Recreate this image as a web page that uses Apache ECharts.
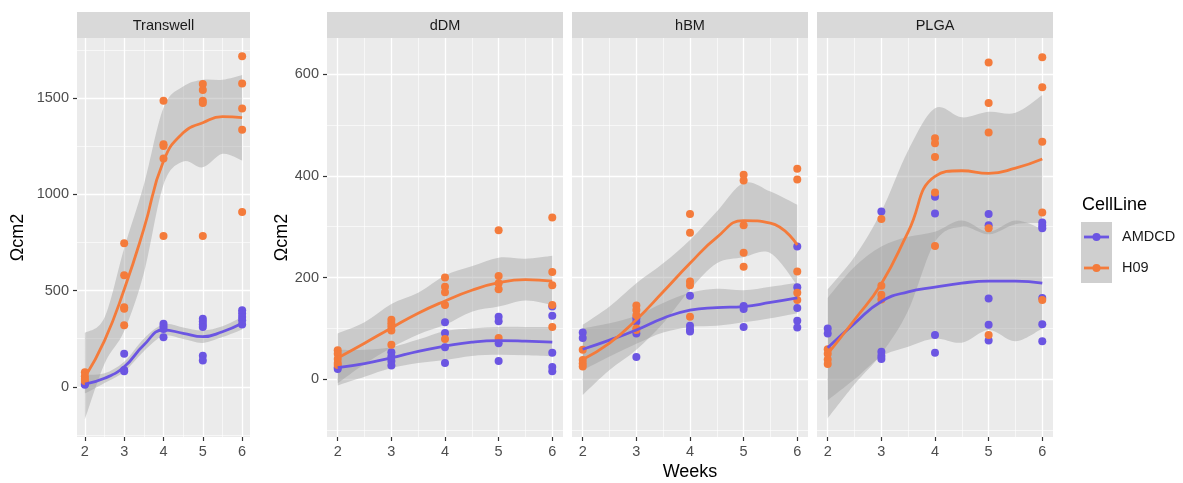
<!DOCTYPE html>
<html><head><meta charset="utf-8">
<script src="https://cdn.jsdelivr.net/npm/echarts@6/dist/echarts.min.js"></script>
<style>html,body{margin:0;padding:0;background:#fff;}#chart{width:1183px;height:483px;}</style>
</head><body><div id="chart"></div>
<script>
// ---------- data ----------
const panels = ['Transwell', 'dDM', 'hBM', 'PLGA'];
const cellLines = ['AMDCD', 'H09'];
const weeks = [2, 3, 4, 5, 6];
const weekMinor = [2.5, 3.5, 4.5, 5.5];
const fitWeeks = [2, 2.5, 3, 3.5, 4, 4.5, 5, 5.5, 6];
const transwellTicks = [0, 500, 1000, 1500];
const transwellMinor = [-250, 250, 750, 1250, 1750];
const sharedTicks = [0, 200, 400, 600];
const sharedMinor = [-100, 100, 300, 500];

// measured points, one list per week
const transwellAMDCD = [[20, 15, 10], [171, 87, 80], [328, 314, 300, 257], [354, 339, 323, 311, 161, 137], [397, 380, 363, 345, 323]];
const transwellH09 = [[75, 55, 40, 30], [745, 580, 413, 405, 320], [1486, 1260, 1251, 1186, 783], [1573, 1542, 1486, 1474, 783], [1717, 1576, 1446, 1335, 908]];
const dDMAMDCD = [[23, 20], [53, 45, 36, 27], [112, 91, 63, 32], [123, 114, 71, 36], [143, 125, 52, 24, 16]];
const dDMH09 = [[57, 50, 40, 32, 28], [117, 110, 104, 96, 68], [200, 182, 171, 146, 79], [293, 203, 189, 177, 81], [318, 211, 185, 146, 103]];
const hBMAMDCD = [[92, 81], [120, 113, 90, 44], [164, 105, 98, 94], [144, 138, 103], [261, 181, 140, 115, 102]];
const hBMH09 = [[58, 38, 31, 25], [145, 136, 126, 100, 97], [325, 288, 192, 185, 123], [402, 391, 303, 249, 221], [414, 393, 212, 170, 156]];
const plgaAMDCD = [[100, 90], [330, 54, 46, 40], [359, 326, 87, 52], [325, 303, 159, 107, 76], [308, 302, 297, 160, 108, 75]];
const plgaH09 = [[59, 50, 39, 30], [315, 184, 166, 157], [474, 464, 437, 367, 262], [623, 543, 485, 297, 87], [633, 574, 467, 328, 156]];

// loess fits and confidence bands read at fitWeeks
const transwellAMDCDFit = [14, 44, 104, 217, 295, 278, 260, 286, 330];
const transwellAMDCDLo = [-35, 20, 78, 185, 265, 248, 228, 258, 298];
const transwellAMDCDHi = [62, 70, 130, 250, 325, 308, 292, 314, 362];
const transwellH09Fit = [50, 240, 505, 820, 1173, 1320, 1372, 1403, 1398];
const transwellH09Lo = [-170, 120, 290, 590, 1050, 1170, 1140, 1210, 1175];
const transwellH09Hi = [280, 360, 720, 1050, 1450, 1560, 1595, 1595, 1620];
const dDMAMDCDFit = [23, 31, 42, 55, 65, 73, 76, 75, 73];
const dDMAMDCDLo = [-12, 5, 22, 32, 38, 46, 48, 47, 45];
const dDMAMDCDHi = [58, 58, 63, 78, 95, 100, 103, 103, 103];
const dDMH09Fit = [42, 71, 101, 130, 154, 175, 190, 196, 193];
const dDMH09Lo = [-8, 30, 62, 88, 107, 133, 143, 155, 146];
const dDMH09Hi = [90, 112, 148, 170, 204, 222, 239, 237, 243];
const hBMAMDCDFit = [59, 77, 97, 120, 136, 141, 143, 151, 160];
const hBMAMDCDLo = [18, 45, 70, 92, 103, 105, 112, 120, 130];
const hBMAMDCDHi = [100, 110, 125, 150, 170, 178, 175, 182, 190];
const hBMH09Fit = [39, 71, 117, 172, 228, 279, 312, 307, 264];
const hBMH09Lo = [-31, 18, 58, 110, 176, 228, 240, 248, 185];
const hBMH09Hi = [107, 143, 189, 228, 274, 330, 386, 369, 343];
const plgaAMDCDFit = [62, 110, 153, 172, 181, 189, 193, 193, 189];
const plgaAMDCDLo = [-41, 0, 45, 64, 80, 72, 97, 75, 100];
const plgaAMDCDHi = [160, 221, 261, 280, 290, 312, 290, 312, 295];
const plgaH09Fit = [50, 117, 188, 290, 399, 410, 405, 415, 433];
const plgaH09Lo = [-77, -10, 50, 135, 270, 300, 285, 305, 307];
const plgaH09Hi = [177, 241, 330, 450, 533, 515, 526, 524, 559];

// ---------- assembly ----------
const panelData = [
  { AMDCD: [transwellAMDCD, transwellAMDCDFit, transwellAMDCDLo, transwellAMDCDHi], H09: [transwellH09, transwellH09Fit, transwellH09Lo, transwellH09Hi] },
  { AMDCD: [dDMAMDCD, dDMAMDCDFit, dDMAMDCDLo, dDMAMDCDHi], H09: [dDMH09, dDMH09Fit, dDMH09Lo, dDMH09Hi] },
  { AMDCD: [hBMAMDCD, hBMAMDCDFit, hBMAMDCDLo, hBMAMDCDHi], H09: [hBMH09, hBMH09Fit, hBMH09Lo, hBMH09Hi] },
  { AMDCD: [plgaAMDCD, plgaAMDCDFit, plgaAMDCDLo, plgaAMDCDHi], H09: [plgaH09, plgaH09Fit, plgaH09Lo, plgaH09Hi] }
];

const FONT = '"Liberation Sans", Arial, Helvetica, sans-serif';
const COLORS = { AMDCD: '#6B55E2', H09: '#F47B3B' };
const BAND = 'rgba(153,153,153,0.4)';
const gridBoxes = [[77, 173], [327, 236], [572, 236], [817, 236]];
const GTOP = 38, GH = 399;
const yRanges = [[-261, 1812], [-113.5, 671], [-113.5, 671], [-113.5, 671]];

// Catmull-Rom spline through pixel points -> SVG path commands (no leading M)
function splinePath(pts) {
  let d = '';
  for (let i = 0; i < pts.length - 1; i++) {
    const p0 = pts[Math.max(i - 1, 0)], p1 = pts[i], p2 = pts[i + 1], p3 = pts[Math.min(i + 2, pts.length - 1)];
    const c1 = [p1[0] + (p2[0] - p0[0]) / 6, p1[1] + (p2[1] - p0[1]) / 6];
    const c2 = [p2[0] - (p3[0] - p1[0]) / 6, p2[1] - (p3[1] - p1[1]) / 6];
    d += ' C' + c1[0] + ',' + c1[1] + ' ' + c2[0] + ',' + c2[1] + ' ' + p2[0] + ',' + p2[1];
  }
  return d;
}

const grids = [], xAxes = [], yAxes = [], series = [], graphics = [];

panels.forEach((name, g) => {
  const [left, width] = gridBoxes[g];
  grids.push({ left: left, top: GTOP, width: width, height: GH, show: true, backgroundColor: '#EBEBEB', borderWidth: 0 });
  const majY = g === 0 ? transwellTicks : sharedTicks;
  const minY = g === 0 ? transwellMinor : sharedMinor;
  const showY = g <= 1;
  xAxes.push({
    gridIndex: g, type: 'value', min: 1.8, max: 6.2, position: 'bottom',
    axisLine: { show: false, onZero: false },
    axisTick: { show: true, customValues: weeks, length: 4, lineStyle: { color: '#333', width: 1.2 } },
    axisLabel: { customValues: weeks, color: '#4D4D4D', fontSize: 14.5, margin: 7, fontFamily: FONT, formatter: v => String(v) },
    splitLine: { show: true, lineStyle: { color: '#FFFFFF', width: 1.3 } }
  });
  xAxes.push({
    gridIndex: g, type: 'value', min: 1.8, max: 6.2, position: 'top',
    axisLine: { show: false, onZero: false },
    axisTick: { show: false, customValues: weekMinor },
    axisLabel: { show: false, customValues: weekMinor },
    splitLine: { show: true, lineStyle: { color: '#FFFFFF', width: 0.6 } }
  });
  yAxes.push({
    gridIndex: g, type: 'value', min: yRanges[g][0], max: yRanges[g][1], position: 'left',
    axisLine: { show: false, onZero: false },
    axisTick: { show: showY, customValues: majY, length: 4, lineStyle: { color: '#333', width: 1.2 } },
    axisLabel: { show: showY, customValues: majY, color: '#4D4D4D', fontSize: 14.5, margin: 8, fontFamily: FONT, formatter: v => String(v) },
    splitLine: { show: true, lineStyle: { color: '#FFFFFF', width: 1.3 } },
    name: showY ? 'Ωcm2' : '', nameLocation: 'middle', nameRotate: 90, nameGap: g === 0 ? 50 : 35,
    nameTextStyle: { fontSize: 18, color: '#000', fontFamily: FONT }
  });
  yAxes.push({
    gridIndex: g, type: 'value', min: yRanges[g][0], max: yRanges[g][1], position: 'right',
    axisLine: { show: false, onZero: false },
    axisTick: { show: false, customValues: minY },
    axisLabel: { show: false, customValues: minY },
    splitLine: { show: true, lineStyle: { color: '#FFFFFF', width: 0.6 } }
  });

  const xi = 2 * g, yi = 2 * g;
  // confidence bands
  cellLines.forEach(cl => {
    const lo = panelData[g][cl][2], hi = panelData[g][cl][3];
    series.push({
      name: cl + ' band', type: 'custom', coordinateSystem: 'cartesian2d', xAxisIndex: xi, yAxisIndex: yi,
      silent: true, z: 1, clip: true,
      data: fitWeeks.map((x, i) => [x, lo[i], hi[i]]),
      encode: { x: 0, y: [1, 2] },
      renderItem: (params, api) => {
        if (params.dataIndex !== 0) return null;
        const top = fitWeeks.map((x, i) => api.coord([x, hi[i]]));
        const bot = fitWeeks.map((x, i) => api.coord([x, lo[i]])).reverse();
        const d = 'M' + top[0][0] + ',' + top[0][1] + splinePath(top) +
          ' L' + bot[0][0] + ',' + bot[0][1] + splinePath(bot) + ' Z';
        return { type: 'path', shape: { pathData: d }, style: { fill: BAND } };
      }
    });
  });
  // points
  cellLines.forEach(cl => {
    const pts = panelData[g][cl][0];
    const data = [];
    weeks.forEach((w, i) => pts[i].forEach(v => data.push([w, v])));
    series.push({
      name: cl, type: 'scatter', xAxisIndex: xi, yAxisIndex: yi, symbolSize: 8, z: 3,
      itemStyle: { color: COLORS[cl], opacity: 1 }, data: data
    });
  });
  // fitted lines
  cellLines.forEach(cl => {
    const fit = panelData[g][cl][1];
    series.push({
      name: cl, type: 'line', xAxisIndex: xi, yAxisIndex: yi, smooth: true, symbol: 'none', z: 4,
      lineStyle: { color: COLORS[cl], width: 2.8 }, itemStyle: { color: COLORS[cl] },
      data: fitWeeks.map((x, i) => [x, fit[i]])
    });
  });

  // strip
  graphics.push({ type: 'rect', shape: { x: left, y: 12, width: width, height: GTOP - 12 }, style: { fill: '#D9D9D9' }, silent: true });
  graphics.push({ type: 'text', x: left + width / 2, y: 25.5, style: { text: name, fill: '#1A1A1A', fontSize: 14.5, fontFamily: FONT, textAlign: 'center', textVerticalAlign: 'middle' }, silent: true });
});

// shared x-axis title
graphics.push({ type: 'text', x: 690, y: 472, style: { text: 'Weeks', fill: '#000', fontSize: 18, fontFamily: FONT, textAlign: 'center', textVerticalAlign: 'middle' } });

// legend (drawn)
graphics.push({ type: 'text', x: 1082, y: 205, style: { text: 'CellLine', fill: '#000', fontSize: 18, fontFamily: FONT, textAlign: 'left', textVerticalAlign: 'middle' } });
graphics.push({ type: 'rect', shape: { x: 1081, y: 222, width: 31, height: 61 }, style: { fill: '#CFCFCF' } });
cellLines.forEach((cl, i) => {
  const cy = 237 + i * 31;
  graphics.push({ type: 'line', shape: { x1: 1084, y1: cy, x2: 1109, y2: cy }, style: { stroke: COLORS[cl], lineWidth: 2.8 } });
  graphics.push({ type: 'circle', shape: { cx: 1096.5, cy: cy, r: 4 }, style: { fill: COLORS[cl] } });
  graphics.push({ type: 'text', x: 1122, y: cy, style: { text: cl, fill: '#1A1A1A', fontSize: 14.5, fontFamily: FONT, textAlign: 'left', textVerticalAlign: 'middle' } });
});

const chart = echarts.init(document.getElementById('chart'), null, { renderer: 'canvas' });
chart.setOption({
  animation: false,
  backgroundColor: '#FFFFFF',
  textStyle: { fontFamily: FONT },
  grid: grids, xAxis: xAxes, yAxis: yAxes, series: series, graphic: graphics
});
</script></body></html>
